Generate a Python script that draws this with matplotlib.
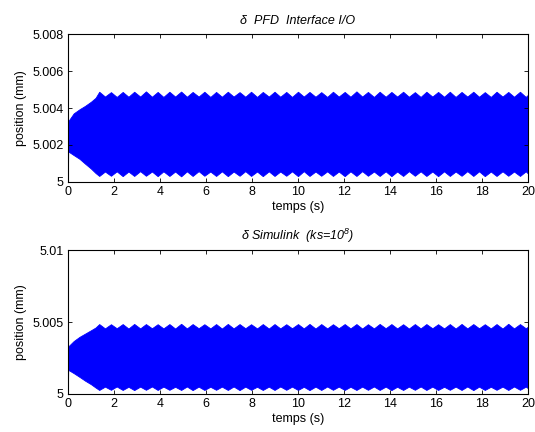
import numpy as np
import matplotlib
matplotlib.use("Agg")
import matplotlib.pyplot as plt

plt.rcParams['font.family'] = ['Liberation Sans', 'DejaVu Sans']
plt.rcParams['font.size'] = 9
plt.rcParams['mathtext.fontset'] = 'custom'
plt.rcParams['mathtext.rm'] = 'Liberation Sans:italic'
plt.rcParams['mathtext.it'] = 'Liberation Sans:italic'

# envelope of the oscillation (time in s, offsets in micrometres above 5 mm)
t_env = [0.0, 0.01, 0.25, 0.5, 0.75, 1.0, 1.2,
         1.36, 1.61, 1.87, 2.12, 2.38, 2.63, 2.88, 3.14, 3.39, 3.65,
         3.90, 4.15, 4.41, 4.66, 4.92, 5.17, 5.42, 5.68, 5.93, 6.19,
         6.44, 6.69, 6.95, 7.20, 7.46, 7.71, 7.96, 8.22, 8.47, 8.73,
         8.98, 9.23, 9.49, 9.74, 10.00, 10.25, 10.50, 10.76, 11.01, 11.27,
         11.52, 11.77, 12.03, 12.28, 12.54, 12.79, 13.04, 13.30, 13.55, 13.81,
         14.06, 14.31, 14.57, 14.82, 15.08, 15.33, 15.58, 15.84, 16.09, 16.35,
         16.60, 16.85, 17.11, 17.36, 17.62, 17.87, 18.12, 18.38, 18.63, 18.89,
         19.14, 19.39, 19.65, 19.90,
         20.0]

# PFD Interface I/O
top_hi = [3.26, 3.28, 3.71, 3.93, 4.12, 4.34, 4.55,
          4.88, 4.62, 4.86, 4.60, 4.87, 4.61, 4.88, 4.62, 4.90, 4.61,
          4.87, 4.60, 4.88, 4.62, 4.89, 4.61, 4.87, 4.62, 4.88, 4.60,
          4.87, 4.61, 4.88, 4.62, 4.86, 4.61, 4.88, 4.60, 4.87, 4.62,
          4.88, 4.61, 4.87, 4.60, 4.88, 4.62, 4.87, 4.61, 4.86, 4.60,
          4.88, 4.62, 4.87, 4.61, 4.90, 4.62, 4.87, 4.60, 4.88, 4.61,
          4.87, 4.62, 4.88, 4.61, 4.86, 4.60, 4.88, 4.62, 4.87, 4.61,
          4.88, 4.60, 4.87, 4.62, 4.88, 4.61, 4.86, 4.60, 4.88, 4.62,
          4.87, 4.61, 4.88, 4.60,
          4.72]
top_lo = [0.0, 1.65, 1.45, 1.25, 0.98, 0.72, 0.48,
          0.32, 0.56, 0.33, 0.57, 0.31, 0.56, 0.32, 0.58, 0.33, 0.56,
          0.31, 0.57, 0.32, 0.56, 0.30, 0.57, 0.32, 0.58, 0.33, 0.56,
          0.32, 0.57, 0.31, 0.56, 0.33, 0.58, 0.32, 0.56, 0.31, 0.57,
          0.32, 0.56, 0.33, 0.57, 0.31, 0.58, 0.32, 0.56, 0.33, 0.57,
          0.32, 0.56, 0.31, 0.57, 0.32, 0.58, 0.33, 0.56, 0.32, 0.57,
          0.31, 0.56, 0.32, 0.58, 0.33, 0.57, 0.32, 0.56, 0.31, 0.57,
          0.32, 0.56, 0.33, 0.58, 0.32, 0.57, 0.31, 0.56, 0.32, 0.57,
          0.33, 0.56, 0.32, 0.57,
          0.45]

# Simulink (ks=1e8)
bot_hi = [3.29, 3.30, 3.68, 3.97, 4.20, 4.43, 4.62,
          4.86, 4.56, 4.85, 4.57, 4.86, 4.55, 4.87, 4.56, 4.86, 4.57,
          4.85, 4.56, 4.86, 4.55, 4.88, 4.56, 4.86, 4.57, 4.85, 4.56,
          4.86, 4.55, 4.87, 4.56, 4.86, 4.57, 4.85, 4.56, 4.86, 4.55,
          4.86, 4.56, 4.85, 4.57, 4.86, 4.56, 4.87, 4.55, 4.86, 4.56,
          4.85, 4.57, 4.86, 4.56, 4.86, 4.55, 4.85, 4.56, 4.87, 4.57,
          4.86, 4.56, 4.85, 4.55, 4.86, 4.56, 4.86, 4.57, 4.85, 4.56,
          4.86, 4.55, 4.87, 4.56, 4.86, 4.57, 4.85, 4.56, 4.86, 4.55,
          4.88, 4.56, 4.86, 4.57,
          4.68]
bot_lo = [0.0, 1.68, 1.45, 1.19, 0.92, 0.68, 0.45,
          0.28, 0.51, 0.29, 0.52, 0.28, 0.50, 0.27, 0.51, 0.29, 0.52,
          0.28, 0.51, 0.29, 0.50, 0.28, 0.52, 0.27, 0.51, 0.28, 0.50,
          0.29, 0.51, 0.28, 0.52, 0.27, 0.51, 0.29, 0.50, 0.28, 0.51,
          0.28, 0.52, 0.29, 0.51, 0.28, 0.50, 0.27, 0.51, 0.28, 0.52,
          0.29, 0.51, 0.28, 0.50, 0.28, 0.51, 0.29, 0.52, 0.28, 0.51,
          0.27, 0.50, 0.28, 0.51, 0.29, 0.52, 0.28, 0.51, 0.28, 0.50,
          0.29, 0.51, 0.28, 0.52, 0.27, 0.51, 0.28, 0.50, 0.29, 0.51,
          0.28, 0.52, 0.29, 0.51,
          0.40]

top_ticks = [5, 5.002, 5.004, 5.006, 5.008]
top_ticklabels = ['5', '5.002', '5.004', '5.006', '5.008']
bot_ticks = [5, 5.005, 5.01]
bot_ticklabels = ['5', '5.005', '5.01']
x_ticks = [0, 2, 4, 6, 8, 10, 12, 14, 16, 18, 20]

t = np.array(t_env)

fig = plt.figure(figsize=(5.35, 4.32), dpi=100)
ax1 = fig.add_axes([0.127, 0.579, 0.860, 0.342])
ax2 = fig.add_axes([0.127, 0.088, 0.860, 0.333])

panels = [
    (ax1, top_hi, top_lo, top_ticks, top_ticklabels, (5, 5.008), '\u03b4  PFD  Interface I/O'),
    (ax2, bot_hi, bot_lo, bot_ticks, bot_ticklabels, (5, 5.01), '\u03b4 Simulink  (ks=10$^8$)'),
]

for ax, hi, lo, yt, ytl, ylim, title in panels:
    hi = 5 + np.array(hi) * 1e-3
    lo = 5 + np.array(lo) * 1e-3
    ax.fill_between(t, lo, hi, color='#0000ff', lw=0.6, edgecolor='#0000ff')
    ax.set_xlim(0, 20)
    ax.set_ylim(*ylim)
    ax.set_xticks(x_ticks)
    ax.set_yticks(yt)
    ax.set_yticklabels(ytl)
    ax.tick_params(direction='in', length=3, width=0.6, top=True, right=True,
                   labelsize=9, pad=3)
    for s in ax.spines.values():
        s.set_linewidth(0.8)
    ax.set_xlabel('temps (s)', fontsize=9, labelpad=2)
    ax.set_ylabel('position (mm)', fontsize=9, labelpad=4)
    ax.set_title(title, fontsize=9, style='italic', pad=7)

fig.savefig('out.png', dpi=100)
